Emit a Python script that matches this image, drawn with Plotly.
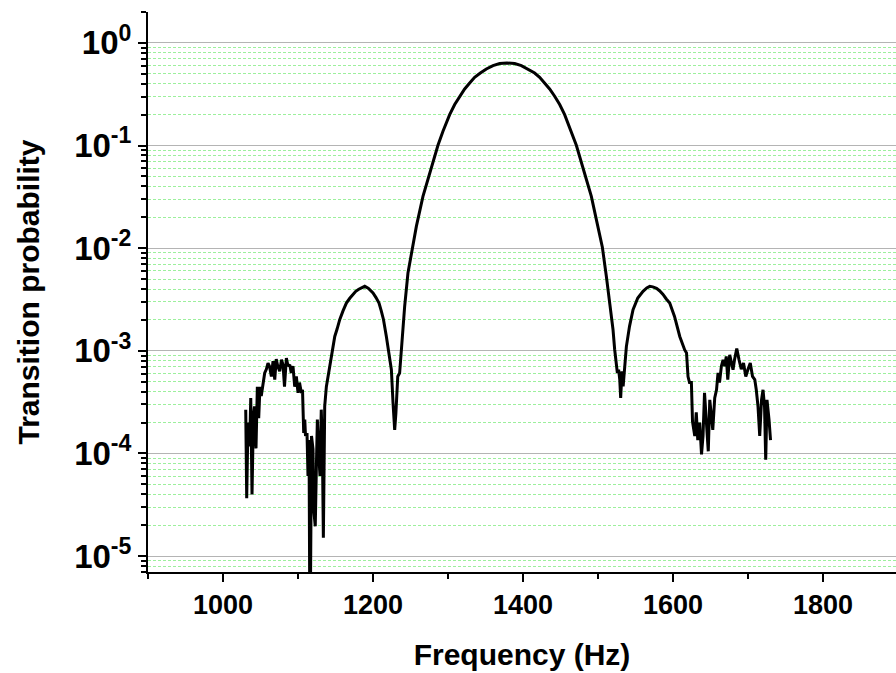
import plotly.graph_objects as go

# ---- data (frequency in Hz, transition probability) ----
freq_left_noise = [1030.3, 1031.6, 1033.3, 1035.6, 1037.0, 1038.7, 1040.5, 1042.0, 1044.0, 1045.8,
                   1047.6, 1049.3, 1051.0, 1053.3, 1055.6, 1057.8, 1060.0, 1062.0, 1064.5, 1066.7,
                   1069.0, 1071.0, 1073.0, 1075.6, 1078.0, 1080.0, 1082.0, 1084.5, 1086.7, 1089.0,
                   1091.0, 1093.3, 1095.6, 1097.8, 1100.0, 1102.0, 1104.5, 1106.0, 1107.6, 1109.0,
                   1110.0, 1112.0, 1113.3, 1114.7, 1116.0, 1118.0, 1120.0, 1121.0, 1123.0, 1124.5,
                   1125.8, 1127.6, 1129.3, 1131.0, 1132.5, 1133.8]
prob_left_noise = [2.67e-4, 3.67e-5, 2.0e-4, 1.17e-4, 3.47e-4, 3.98e-5, 2.29e-4, 2.88e-4, 1.12e-4, 4.47e-4,
                   2.21e-4, 4.47e-4, 3.63e-4, 4.90e-4, 6.08e-4, 6.61e-4, 7.59e-4, 7.08e-4, 5.62e-4, 7.94e-4,
                   5.25e-4, 8.32e-4, 7.08e-4, 6.31e-4, 8.18e-4, 7.33e-4, 4.47e-4, 8.51e-4, 7.08e-4, 7.33e-4,
                   6.08e-4, 7.08e-4, 4.47e-4, 5.62e-4, 3.89e-4, 4.90e-4, 3.89e-4, 4.17e-4, 1.58e-4, 2.14e-4,
                   1.48e-4, 1.58e-4, 6.03e-5, 1.35e-4, 1.0e-6, 1.48e-4, 1.10e-4, 2.82e-5, 1.95e-5, 7.41e-5,
                   2.14e-4, 1.0e-4, 6.03e-5, 2.67e-4, 1.17e-4, 1.51e-5]

freq_left_lobe = [1135.6, 1137.8, 1140.0, 1142.0, 1144.5, 1146.7, 1149.0, 1152.0, 1155.6, 1160.0,
                  1164.5, 1169.0, 1173.3, 1177.0, 1181.0, 1185.0, 1189.0, 1194.0, 1200.0, 1204.0,
                  1208.0, 1211.0, 1214.0, 1217.8, 1220.0, 1222.0, 1224.5, 1226.7, 1228.9, 1230.5,
                  1233.0, 1235.5, 1237.8, 1240.0, 1242.2, 1246.6]
prob_left_lobe = [2.88e-4, 4.47e-4, 5.62e-4, 7.08e-4, 8.51e-4, 1.10e-3, 1.38e-3, 1.62e-3, 2.01e-3, 2.45e-3,
                  2.92e-3, 3.25e-3, 3.52e-3, 3.80e-3, 3.98e-3, 4.15e-3, 4.25e-3, 4.05e-3, 3.66e-3, 3.30e-3,
                  2.92e-3, 2.45e-3, 2.01e-3, 1.38e-3, 1.10e-3, 8.81e-4, 6.55e-4, 3.10e-4, 1.70e-4, 2.45e-4,
                  5.62e-4, 6.08e-4, 1.03e-3, 1.61e-3, 2.71e-3, 5.73e-3]

freq_main = [1252.4, 1257.8, 1266.6, 1275.5, 1286.6, 1293.3, 1302.2, 1308.9, 1315.5, 1322.2,
             1328.9, 1335.5, 1343.1, 1351.1, 1360.0, 1368.9, 1378.6, 1388.9, 1397.8, 1406.6,
             1415.5, 1422.2, 1428.9, 1435.5, 1442.2, 1448.9, 1455.5, 1462.2, 1471.1, 1480.0,
             1491.1, 1497.8, 1505.8, 1511.1, 1516.4, 1520.0, 1522.2, 1524.0, 1525.8, 1527.5,
             1529.0, 1530.2, 1532.0, 1533.5, 1535.6]
prob_main = [1.02e-2, 1.63e-2, 3.20e-2, 5.40e-2, 0.1005, 0.138, 0.200, 0.251, 0.302, 0.356,
             0.407, 0.462, 0.509, 0.557, 0.601, 0.629, 0.638, 0.629, 0.601, 0.557,
             0.509, 0.462, 0.407, 0.356, 0.302, 0.251, 0.200, 0.148, 0.1005, 0.0604,
             3.20e-2, 1.90e-2, 1.02e-2, 5.32e-3, 2.71e-3, 1.61e-3, 1.03e-3, 7.2e-4, 6.08e-4, 6.55e-4,
             5.2e-4, 3.47e-4, 6.3e-4, 4.5e-4, 7.08e-4]

freq_right_lobe = [1537.8, 1542.0, 1546.7, 1553.0, 1560.0, 1565.0, 1569.0, 1573.0, 1578.0, 1582.0,
                   1586.7, 1591.0, 1595.6, 1602.0, 1609.0, 1615.6, 1618.0, 1620.0, 1622.0, 1624.5]
prob_right_lobe = [1.10e-3, 1.73e-3, 2.51e-3, 3.27e-3, 3.80e-3, 4.10e-3, 4.25e-3, 4.20e-3, 4.07e-3, 3.85e-3,
                   3.55e-3, 3.20e-3, 2.92e-3, 2.16e-3, 1.38e-3, 1.02e-3, 9.55e-4, 5.62e-4, 4.90e-4, 4.90e-4]

freq_right_noise = [1626.0, 1629.0, 1631.0, 1633.0, 1635.6, 1638.0, 1640.0, 1642.0, 1644.5, 1647.0,
                    1649.0, 1651.0, 1653.0, 1655.6, 1658.0, 1660.0, 1662.0, 1664.5, 1666.7, 1669.0,
                    1671.0, 1673.0, 1675.6, 1678.0, 1680.0, 1682.0, 1685.0, 1688.0, 1691.0, 1694.0,
                    1697.0, 1700.0, 1703.0, 1706.0, 1709.0, 1711.0, 1713.3, 1715.6, 1718.0, 1720.0,
                    1722.0, 1723.6, 1725.3, 1728.0, 1730.0]
prob_right_noise = [2.04e-4, 1.48e-4, 2.51e-4, 1.35e-4, 2.0e-4, 9.77e-5, 1.48e-4, 3.89e-4, 2.0e-4, 1.05e-4,
                    3.33e-4, 2.29e-4, 1.70e-4, 3.47e-4, 4.17e-4, 6.08e-4, 4.90e-4, 7.08e-4, 8.18e-4, 7.08e-4,
                    8.81e-4, 5.25e-4, 9.12e-4, 7.59e-4, 6.55e-4, 8.18e-4, 1.05e-3, 8.18e-4, 6.61e-4, 7.59e-4,
                    5.62e-4, 6.61e-4, 7.59e-4, 5.62e-4, 5.25e-4, 4.17e-4, 2.88e-4, 1.48e-4, 3.33e-4, 4.17e-4,
                    2.88e-4, 8.71e-5, 3.33e-4, 2.14e-4, 1.35e-4]

freq = freq_left_noise + freq_left_lobe + freq_main + freq_right_lobe + freq_right_noise
prob = prob_left_noise + prob_left_lobe + prob_main + prob_right_lobe + prob_right_noise

x_ticks = [1000, 1200, 1400, 1600, 1800]
y_ticks = [1e-5, 1e-4, 1e-3, 1e-2, 1e-1, 1]
y_ticktext = ["10<sup>-5</sup>", "10<sup>-4</sup>", "10<sup>-3</sup>", "10<sup>-2</sup>",
              "10<sup>-1</sup>", "10<sup>0</sup>"]
y_minor = [m * 10.0 ** e for e in range(-6, 1) for m in range(2, 10)]

FONT = "Liberation Sans, Arial, sans-serif"

fig = go.Figure()
fig.add_trace(go.Scatter(x=freq, y=prob, mode="lines",
                         line=dict(color="black", width=3), showlegend=False))

fig.update_layout(
    width=896, height=673,
    margin=dict(l=148, r=0, t=12, b=101),
    paper_bgcolor="white", plot_bgcolor="white",
    font=dict(family=FONT, color="black"),
)
fig.update_xaxes(
    range=[900, 1897.3],
    tickmode="array", tickvals=x_ticks,
    ticks="outside", ticklen=8, tickwidth=2, tickcolor="black",
    showline=True, linecolor="black", linewidth=2,
    showgrid=False, zeroline=False,
    tickfont=dict(size=27, family=FONT, weight="bold"),
    minor=dict(dtick=100, tick0=900, ticks="outside", ticklen=5, tickwidth=2,
               tickcolor="black", showgrid=False),
    title=dict(text="Frequency (Hz)", font=dict(size=30, family=FONT, weight="bold"), standoff=25),
)
fig.update_yaxes(
    type="log",
    range=[-5.155, 0.301],
    tickmode="array", tickvals=y_ticks, ticktext=y_ticktext,
    ticks="outside", ticklen=8, tickwidth=2, tickcolor="black",
    showline=True, linecolor="black", linewidth=2,
    showgrid=True, gridcolor="#b4b4b4", gridwidth=1.2,
    zeroline=False,
    tickfont=dict(size=33, family=FONT, weight="bold"),
    minor=dict(tickmode="array", tickvals=y_minor, ticks="outside", ticklen=5, tickwidth=1.5,
               tickcolor="black", showgrid=True, gridcolor="#9cf09c", gridwidth=1,
               griddash="3px,2px"),
    title=dict(text="Transition probability", font=dict(size=30, family=FONT, weight="bold"),
               standoff=26),
)

fig.write_html("out.html")
